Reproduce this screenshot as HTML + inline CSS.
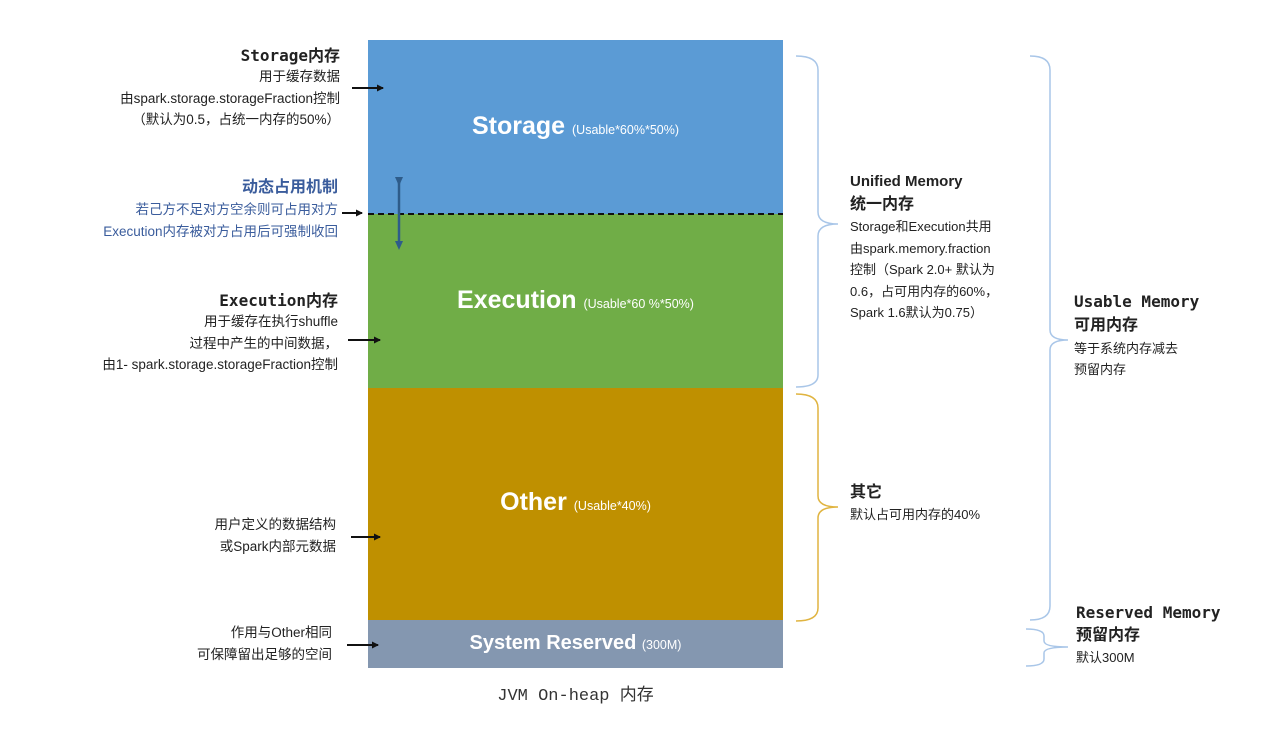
<!DOCTYPE html>
<html><head><meta charset="utf-8"><style>
body{margin:0;width:1276px;height:730px;background:#fff;position:relative;overflow:hidden;font-family:"Liberation Sans","Noto Sans CJK SC",sans-serif;color:#222}
.a{position:absolute;white-space:nowrap}
.r{text-align:right}
.t{font-size:13.5px;line-height:21.5px}
.b{font-weight:bold;font-size:16px;font-family:"DejaVu Sans Mono","Noto Sans CJK SC",monospace}
.blk{position:absolute;left:368px;width:415px;color:#fff;text-align:center;font-weight:bold;font-size:25px}
.blk small{font-size:12.5px;font-weight:normal}
</style></head><body>
<div class="blk" style="top:40px;height:174px;background:#5B9BD5"><div style="margin-top:72px">Storage <small>(Usable*60%*50%)</small></div></div>
<div class="blk" style="top:214px;height:174px;background:#70AD47"><div style="margin-top:72px">Execution <small>(Usable*60 %*50%)</small></div></div>
<div class="blk" style="top:388px;height:232px;background:#BF9000"><div style="margin-top:100px">Other <small>(Usable*40%)</small></div></div>
<div class="blk" style="top:620px;height:48px;background:#8497B0;font-size:20px"><div style="margin-top:12px">System Reserved <small>(300M)</small></div></div>

<svg class="a" style="left:0;top:0" width="1276" height="730">
<defs><marker id="m" markerWidth="8" markerHeight="8" refX="6" refY="4" orient="auto" markerUnits="userSpaceOnUse"><path d="M0,0.5 L7,4 L0,7.5z" fill="#111"/></marker>
<marker id="mb" markerWidth="10" markerHeight="10" refX="5" refY="5" orient="auto" markerUnits="userSpaceOnUse"><path d="M0,1 L9,5 L0,9z" fill="#2E5C8A"/></marker></defs>
<line x1="368" y1="214" x2="783" y2="214" stroke="#111" stroke-width="2" stroke-dasharray="6,4"/>
<line x1="399" y1="182" x2="399" y2="246" stroke="#2E5C8A" stroke-width="2.5" marker-start="url(#mb)" marker-end="url(#mb)"/>
<g stroke="#111" stroke-width="2" marker-end="url(#m)">
<line x1="352" y1="88" x2="383" y2="88"/>
<line x1="342" y1="213" x2="362" y2="213"/>
<line x1="348" y1="340" x2="380" y2="340"/>
<line x1="351" y1="537" x2="380" y2="537"/>
<line x1="347" y1="645" x2="378" y2="645"/>
</g>
<g fill="none" stroke-width="1.5">
<path d="M796,56 Q818,56 818,70 L818,212 Q818,224 838,224 Q818,224 818,236 L818,375 Q818,387 796,387" stroke="#A9C6E8"/>
<path d="M796,394 Q818,394 818,408 L818,496 Q818,507 838,507 Q818,507 818,518 L818,608 Q818,621 796,621" stroke="#E0B440"/>
<path d="M1030,56 Q1050,56 1050,70 L1050,330 Q1050,340 1068,340 Q1050,340 1050,350 L1050,606 Q1050,620 1030,620" stroke="#A9C6E8"/>
<path d="M1026,629 Q1044,629 1044,636 L1044,641 Q1044,647 1068,647 Q1044,647 1044,653 L1044,659 Q1044,666 1026,666" stroke="#A9C6E8"/>
</g>
</svg>

<div class="a r" style="right:936px;top:45px;line-height:21px">
<div class="b">Storage内存</div>
<div class="t">用于缓存数据<br>由spark.storage.storageFraction控制<br>（默认为0.5，占统一内存的50%）</div></div>
<div class="a r" style="right:938px;top:177px;color:#3A5C9C">
<div style="font-weight:bold;font-size:16px;line-height:22px">动态占用机制</div>
<div class="t">若己方不足对方空余则可占用对方<br>Execution内存被对方占用后可强制收回</div></div>
<div class="a r" style="right:938px;top:290px;line-height:21px">
<div class="b">Execution内存</div>
<div class="t">用于缓存在执行shuffle<br>过程中产生的中间数据，<br>由1- spark.storage.storageFraction控制</div></div>
<div class="a r t" style="right:940px;top:514px">用户定义的数据结构<br>或Spark内部元数据</div>
<div class="a r t" style="right:944px;top:622px">作用与Other相同<br>可保障留出足够的空间</div>
<div class="a" style="left:0;width:1151px;text-align:center;top:680px;font-family:'Liberation Mono','Noto Sans CJK SC',monospace;font-size:17px;color:#333">JVM On-heap 内存</div>

<div class="a" style="left:850px;top:171px">
<div style="font-weight:bold;font-size:15px;line-height:22px">Unified Memory</div>
<div style="font-weight:bold;font-size:16px;line-height:23px">统一内存</div>
<div style="font-size:13px;line-height:21.5px">Storage和Execution共用<br>由spark.memory.fraction<br>控制（Spark 2.0+ 默认为<br>0.6，占可用内存的60%，<br>Spark 1.6默认为0.75）</div></div>
<div class="a" style="left:850px;top:481px">
<div style="font-weight:bold;font-size:16px;line-height:23px">其它</div>
<div style="font-size:13px;line-height:21px">默认占可用内存的40%</div></div>
<div class="a" style="left:1074px;top:291px">
<div class="b" style="line-height:22px">Usable Memory</div>
<div style="font-weight:bold;font-size:16px;line-height:25px">可用内存</div>
<div style="font-size:13px;line-height:21px">等于系统内存减去<br>预留内存</div></div>
<div class="a" style="left:1076px;top:602px">
<div class="b" style="line-height:22px">Reserved Memory</div>
<div style="font-weight:bold;font-size:16px;line-height:24px">预留内存</div>
<div style="font-size:13px;line-height:20px">默认300M</div></div>
</body></html>
